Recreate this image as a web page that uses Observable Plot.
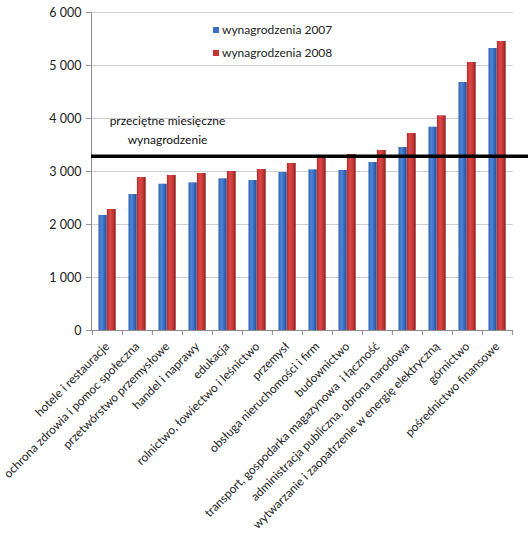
<!DOCTYPE html>
<html><head><meta charset="utf-8">
<script src="https://cdn.jsdelivr.net/npm/d3@7"></script>
<script src="https://cdn.jsdelivr.net/npm/@observablehq/plot@0.6"></script>
<style>
body{margin:0;background:#fff;}
#wrap{position:relative;width:532px;height:543px;font-family:Lato,"Open Sans",sans-serif;}
#legend{position:absolute;left:213px;top:18px;font-size:12px;color:#222;line-height:23px;}
#legend .sw{display:inline-block;width:6px;height:6px;margin-right:3px;vertical-align:1px;}
</style></head>
<body><div id="wrap"><div id="legend"></div></div>
<script>
const categories = ["hotele i restauracje","ochrona zdrowia i pomoc społeczna","przetwórstwo przemysłowe","handel i naprawy","edukacja","rolnictwo, łowiectwo i leśnictwo","przemysł","obsługa nieruchomości i firm","budownictwo","transport, gospodarka magazynowa  i łączność","administracja publiczna, obrona narodowa","wytwarzanie i zaopatrzenie w energię elektryczną","górnictwo","pośrednictwo finansowe"];
const wages2007 = [2170, 2566, 2760, 2786, 2862, 2830, 2981, 3031, 3019, 3170, 3453, 3836, 4679, 5321];
const wages2008 = [2283, 2887, 2925, 2962, 3000, 3038, 3151, 3264, 3321, 3396, 3717, 4051, 5057, 5453];
const averageWage = 3290;
const seriesNames = ["wynagrodzenia 2007", "wynagrodzenia 2008"];
const seriesColors = ["#3a6fc2", "#c83434"];
const yTicks = [0, 1000, 2000, 3000, 4000, 5000, 6000];
const annotation = "przeciętne miesięczne\nwynagrodzenie";

const d07 = categories.map((c, i) => ({cat: c, v: wages2007[i]}));
const d08 = categories.map((c, i) => ({cat: c, v: wages2008[i]}));
const fmt = n => d3.format(",")(n).replace(/,/g, " ");

const chart = Plot.plot({
  width: 532, height: 543,
  marginLeft: 91, marginRight: 19, marginTop: 12, marginBottom: 213,
  style: {fontFamily: "Lato, 'Open Sans', sans-serif", fontSize: "11px", color: "#222", background: "#fff"},
  x: {domain: categories, padding: 0, label: null},
  y: {domain: [0, 6000], label: null},
  marks: [
    Plot.gridY(yTicks, {stroke: "#cfcfcf", strokeOpacity: 1}),
    Plot.axisY(yTicks, {tickFormat: fmt, tickSize: 5, tickPadding: 5, stroke: "#999", fontSize: 12.5, label: null}),
    Plot.axisX({tickRotate: -45, tickSize: 0, tickPadding: 14, fontSize: 11.9, label: null}),
    Plot.barY(d07, {x: "cat", y: "v", fill: "url(#gBlue)", insetLeft: 6.5, insetRight: 15.3}),
    Plot.barY(d08, {x: "cat", y: "v", fill: "url(#gRed)", insetLeft: 14.9, insetRight: 6.3}),
    Plot.ruleY([0], {stroke: "#8c8c8c"}),
    Plot.frame({anchor: "left", stroke: "#8c8c8c"}),
    Plot.ruleX(categories, {x: d => d, dx: -15.1, y1: 0, y2: -95, stroke: "#8c8c8c"}),
    Plot.ruleX([categories[categories.length - 1]], {x: d => d, dx: 15.1, y1: 0, y2: -95, stroke: "#8c8c8c"}),
    Plot.ruleY([averageWage], {stroke: "#000", strokeWidth: 3.5, insetRight: -15}),
    Plot.text([annotation], {x: () => categories[2], y: () => averageWage, text: d => d, dy: -12, lineAnchor: "bottom", lineHeight: 1.6, fontSize: 12, fill: "#111"})
  ]
});

const ns = "http://www.w3.org/2000/svg";
const defs = document.createElementNS(ns, "defs");
defs.innerHTML = `
<linearGradient id="gBlue" x1="0" x2="1" y1="0" y2="0">
  <stop offset="0" stop-color="#2f5fae"/><stop offset="0.35" stop-color="#4f86d8"/>
  <stop offset="0.7" stop-color="#3669bd"/><stop offset="1" stop-color="#21498e"/>
</linearGradient>
<linearGradient id="gRed" x1="0" x2="1" y1="0" y2="0">
  <stop offset="0" stop-color="#b52a2a"/><stop offset="0.35" stop-color="#dc4a48"/>
  <stop offset="0.7" stop-color="#c23636"/><stop offset="1" stop-color="#8c1d1d"/>
</linearGradient>`;
chart.insertBefore(defs, chart.firstChild);
document.getElementById("wrap").insertBefore(chart, document.getElementById("legend"));

const lg = document.getElementById("legend");
seriesNames.forEach((n, i) => {
  const row = document.createElement("div");
  row.innerHTML = `<span class="sw" style="background:${seriesColors[i]}"></span>${n}`;
  lg.appendChild(row);
});
</script>
</body></html>
